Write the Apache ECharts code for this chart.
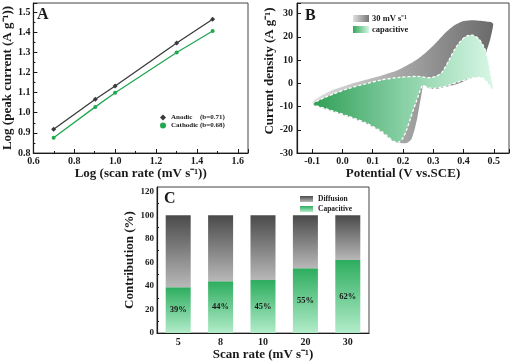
<!DOCTYPE html>
<html>
<head>
<meta charset="utf-8">
<script src="https://cdn.jsdelivr.net/npm/echarts@6/dist/echarts.min.js"></script>
<style>
  html, body { margin: 0; padding: 0; background: #fff; }
  #chart { width: 513px; height: 362px; }
</style>
</head>
<body>
<div id="chart"></div>
<script>
// panel A: log(scan rate) vs log(peak current)
const logScanRate = [0.699, 0.903, 1.0, 1.301, 1.477];
const anodic = [0.918, 1.067, 1.133, 1.346, 1.464];
const cathodic = [0.876, 1.029, 1.099, 1.299, 1.406];
const bValues = ['0.71', '0.68'];

// panel B: CV loop at 30 mV/s (total) and capacitive part, [V, A/g]
const cvTotal = [
  [-0.10, -8.2], [-0.07, -5.3], [-0.03, -2.8], [0.02, -0.6], [0.077, 1.5], [0.13, 3.4],
  [0.18, 5.5], [0.22, 8.2], [0.25, 10.6], [0.28, 13.8], [0.31, 17.6], [0.34, 21.8],
  [0.37, 25.0], [0.40, 26.8], [0.43, 27.2], [0.46, 26.9], [0.49, 26.4], [0.498, 25.5],
  [0.488, 19.0], [0.475, 13.5], [0.46, 7.0], [0.45, 4.0],
  [0.43, 2.6], [0.40, 0.8], [0.37, -0.6], [0.34, -1.5], [0.31, -2.4], [0.285, -2.2],
  [0.268, -0.3], [0.262, -4.0], [0.255, -9.0], [0.247, -15.0], [0.238, -20.0], [0.228, -24.0],
  [0.215, -25.6], [0.20, -25.8], [0.185, -25.6], [0.17, -25.1], [0.15, -23.3], [0.13, -21.1],
  [0.077, -17.3], [0.02, -14.5], [-0.03, -12.3], [-0.07, -10.6]
];
const cvCapacitive = [
  [-0.10, -9.0], [-0.07, -6.8], [-0.03, -4.6], [0.02, -2.2], [0.077, -0.2], [0.13, 1.5],
  [0.19, 2.6], [0.25, 3.0], [0.285, 2.4], [0.31, 3.0], [0.33, 5.0], [0.35, 9.5],
  [0.37, 14.5], [0.39, 18.2], [0.41, 20.4], [0.43, 20.8], [0.45, 19.2], [0.465, 16.3],
  [0.478, 12.0], [0.487, 6.0], [0.494, 1.0], [0.50, -3.6],
  [0.48, 0.0], [0.462, 2.4], [0.435, 2.4], [0.407, 1.5], [0.38, 0.5], [0.352, -0.8],
  [0.33, -1.6], [0.30, -2.2], [0.28, -1.8], [0.265, -0.8], [0.257, -3.0], [0.245, -7.5],
  [0.235, -11.0], [0.225, -15.0], [0.212, -20.0], [0.20, -23.5], [0.187, -25.3], [0.17, -25.0],
  [0.15, -23.0], [0.13, -20.8], [0.077, -17.0], [0.02, -14.2], [-0.03, -12.0], [-0.07, -10.3]
];

// panel C: contribution per scan rate
const scanRates = ['5', '8', '10', '20', '30'];
const capacitivePct = [39, 44, 45, 55, 62];
const diffusionPct = [61, 56, 55, 45, 38];

const FONT = 'Liberation Serif';
const BLACK = '#1a1a1a';
const GREEN = '#22a652';
const G = echarts.graphic.LinearGradient;

const grayStops = [
  { offset: 0, color: '#e0e0e0' }, { offset: 0.5, color: '#a6a6a6' }, { offset: 1, color: '#6a6a6a' }
];
const greenStops = [
  { offset: 0, color: '#2f9e55' }, { offset: 0.5, color: '#88d0a5' }, { offset: 1, color: '#d8f7e6' }
];
const barGray = new G(0, 0, 0, 1, [
  { offset: 0, color: '#4a4a4a' }, { offset: 1, color: '#b8b8b8' }
]);
const barGreen = new G(0, 0, 0, 1, [
  { offset: 0, color: '#2dad5e' }, { offset: 1, color: '#b2ecca' }
]);

const tickLabel = { fontFamily: FONT, fontWeight: 'bold', fontSize: 10, color: BLACK };
const nameStyle = { fontFamily: FONT, fontWeight: 'bold', fontSize: 13, color: BLACK };
const axisLine = { show: true, onZero: false, lineStyle: { color: BLACK, width: 1.2 } };
const tick = { inside: true, length: 4, lineStyle: { color: BLACK } };
const minor = { show: true, splitNumber: 2, length: 2, lineStyle: { color: BLACK } };

// only print labels that sit on a whole step
const stepLabel = (step, digits) => (v) => {
  const k = Math.round(v / step);
  return Math.abs(k * step - v) < 1e-6 ? (k * step).toFixed(digits) : '';
};

function polygonRender(points, stops, extra) {
  return function (params, api) {
    if (params.dataIndex !== 0) return null;
    const pts = points.map((p) => api.coord(p));
    const xs = pts.map((p) => p[0]);
    const fill = new G(Math.min(...xs), 0, Math.max(...xs), 0, stops, true);
    return {
      type: 'polygon',
      shape: { points: pts, smooth: 0.2 },
      style: Object.assign({ fill }, extra)
    };
  };
}

const chart = echarts.init(document.getElementById('chart'), null, { renderer: 'canvas' });

chart.setOption({
  animation: false,
  backgroundColor: '#fff',
  grid: [
    { left: 32, top: 3, width: 216, height: 150, show: true, borderColor: '#444', borderWidth: 1 },
    { left: 297, top: 3, width: 212, height: 150, show: true, borderColor: '#444', borderWidth: 1 },
    { left: 157, top: 187, width: 212, height: 147, show: true, borderColor: '#444', borderWidth: 1 }
  ],
  xAxis: [
    {
      gridIndex: 0, type: 'value', min: 0.6, max: 1.65, interval: 0.2,
      axisLine, axisTick: tick, minorTick: minor, splitLine: { show: false },
      axisLabel: { ...tickLabel, margin: 3, formatter: stepLabel(0.2, 1) },
      name: 'Log (scan rate (mV s⁻¹))', nameLocation: 'middle', nameGap: 12, nameTextStyle: nameStyle
    },
    {
      gridIndex: 1, type: 'value', min: -0.15, max: 0.55, splitNumber: 7,
      axisLine, axisTick: tick, splitLine: { show: false },
      axisLabel: { ...tickLabel, margin: 3, formatter: stepLabel(0.1, 1) },
      name: 'Potential (V vs.SCE)', nameLocation: 'middle', nameGap: 12, nameTextStyle: nameStyle
    },
    {
      gridIndex: 2, type: 'category', data: scanRates,
      axisLine, axisTick: { show: false },
      axisLabel: { ...tickLabel, margin: 4 },
      name: 'Scan rate (mV s⁻¹)', nameLocation: 'middle', nameGap: 12, nameTextStyle: nameStyle
    }
  ],
  yAxis: [
    {
      gridIndex: 0, type: 'value', min: 0.8, max: 1.545, interval: 0.1,
      axisLine, axisTick: tick, minorTick: minor, splitLine: { show: false },
      axisLabel: { ...tickLabel, margin: 3, formatter: stepLabel(0.1, 1) },
      name: 'Log (peak current (A g⁻¹))', nameLocation: 'middle', nameGap: 15, nameTextStyle: nameStyle
    },
    {
      gridIndex: 1, type: 'value', min: -30, max: 34.6, interval: 10,
      axisLine, axisTick: tick, splitLine: { show: false },
      axisLabel: { ...tickLabel, margin: 4, formatter: stepLabel(10, 0) },
      name: 'Current density (A g⁻¹)', nameLocation: 'middle', nameGap: 21,
      nameTextStyle: { ...nameStyle, padding: [0, 0, 0, 14] }
    },
    {
      gridIndex: 2, type: 'value', min: 0, max: 124, interval: 20,
      axisLine, axisTick: tick, minorTick: minor, splitLine: { show: false },
      axisLabel: { ...tickLabel, fontSize: 9, margin: 3, formatter: stepLabel(20, 0) },
      name: 'Contribution (%)', nameLocation: 'middle', nameGap: 16, nameTextStyle: nameStyle
    }
  ],
  legend: [
    {
      left: 155, top: 109, orient: 'vertical', itemGap: 1, itemWidth: 6, itemHeight: 6,
      data: [{ name: 'Anodic', icon: 'diamond' }, { name: 'Cathodic', icon: 'circle' }],
      formatter: (name) => `{a|${name}}{b|(b=${bValues[name === 'Anodic' ? 0 : 1]})}`,
      textStyle: {
        fontFamily: FONT, fontWeight: 'bold', fontSize: 7, color: BLACK, lineHeight: 7,
        rich: { a: { width: 29, fontFamily: FONT, fontWeight: 'bold', fontSize: 7, lineHeight: 7 },
                b: { fontFamily: FONT, fontWeight: 'bold', fontSize: 7, lineHeight: 7 } }
      }
    },
    {
      left: 348, top: 9, orient: 'vertical', itemGap: 2, itemWidth: 16, itemHeight: 7,
      data: [
        { name: '30 mV s⁻¹', icon: 'rect', itemStyle: { color: new G(0, 0, 1, 0, [{ offset: 0, color: '#e0e0e0' }, { offset: 1, color: '#777' }]) } },
        { name: 'capacitive', icon: 'rect', itemStyle: { color: new G(0, 0, 1, 0, [{ offset: 0, color: '#35a85c' }, { offset: 1, color: '#d4f5e2' }]) } }
      ],
      textStyle: { fontFamily: FONT, fontWeight: 'bold', fontSize: 8.5, color: BLACK, padding: [0, 0, 0, -2] }
    },
    {
      left: 295, top: 190, orient: 'vertical', itemGap: 2, itemWidth: 13, itemHeight: 6,
      data: [{ name: 'Diffusion', icon: 'rect' }, { name: 'Capacitive', icon: 'rect' }],
      textStyle: { fontFamily: FONT, fontWeight: 'bold', fontSize: 7.5, color: BLACK }
    }
  ],
  graphic: [
    { type: 'text', left: 37, top: 7, style: { text: 'A', font: `bold 16px "${FONT}"`, fill: BLACK } },
    { type: 'text', left: 305, top: 8, style: { text: 'B', font: `bold 16px "${FONT}"`, fill: BLACK } },
    { type: 'text', left: 164, top: 191, style: { text: 'C', font: `bold 16px "${FONT}"`, fill: BLACK } }
  ],
  series: [
    {
      name: 'Anodic', type: 'line', xAxisIndex: 0, yAxisIndex: 0,
      data: logScanRate.map((x, i) => [x, anodic[i]]),
      symbol: 'diamond', symbolSize: 5, color: '#3a3a3a',
      lineStyle: { color: '#3a3a3a', width: 1.3 }, itemStyle: { color: '#3a3a3a' }
    },
    {
      name: 'Cathodic', type: 'line', xAxisIndex: 0, yAxisIndex: 0,
      data: logScanRate.map((x, i) => [x, cathodic[i]]),
      symbol: 'circle', symbolSize: 4, color: GREEN,
      lineStyle: { color: GREEN, width: 1.3 }, itemStyle: { color: GREEN }
    },
    {
      name: '30 mV s⁻¹', type: 'custom', xAxisIndex: 1, yAxisIndex: 1,
      data: cvTotal, encode: { x: 0, y: 1 }, z: 2,
      itemStyle: { color: '#999' },
      renderItem: polygonRender(cvTotal, grayStops, {})
    },
    {
      name: 'capacitive', type: 'custom', xAxisIndex: 1, yAxisIndex: 1,
      data: cvCapacitive, encode: { x: 0, y: 1 }, z: 3,
      itemStyle: { color: '#7cc99a' },
      renderItem: polygonRender(cvCapacitive, greenStops, { stroke: '#fff', lineWidth: 1.3, lineDash: [3, 2] })
    },
    {
      name: 'Capacitive', type: 'bar', xAxisIndex: 2, yAxisIndex: 2, stack: 'c',
      data: capacitivePct, barWidth: 25,
      itemStyle: { color: barGreen },
      label: {
        show: true, position: 'inside', formatter: '{c}%',
        fontFamily: FONT, fontWeight: 'bold', fontSize: 8.5, color: BLACK
      }
    },
    {
      name: 'Diffusion', type: 'bar', xAxisIndex: 2, yAxisIndex: 2, stack: 'c',
      data: diffusionPct, barWidth: 25,
      itemStyle: { color: barGray }
    }
  ]
});
</script>
</body>
</html>
